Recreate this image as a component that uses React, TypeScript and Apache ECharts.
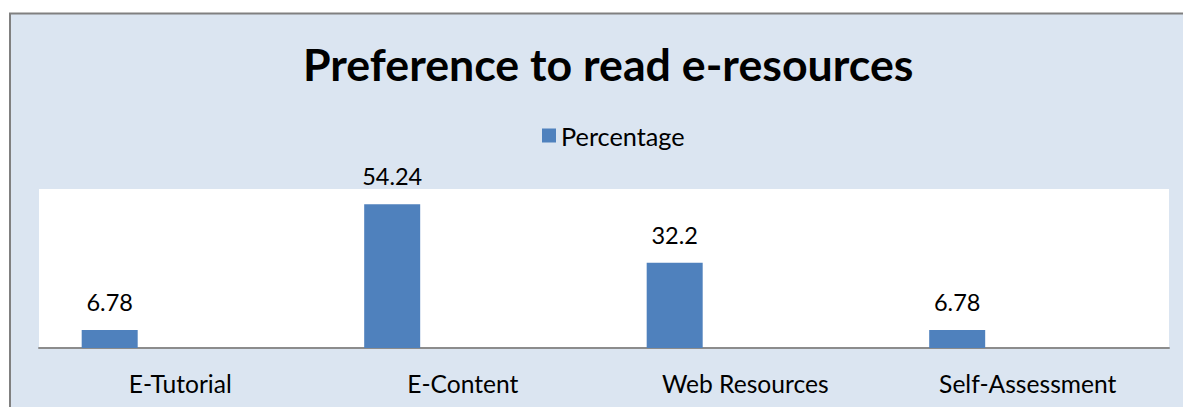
import React, { useEffect, useRef } from "react";
import * as echarts from "echarts";

const categories = ["E-Tutorial", "E-Content", "Web Resources", "Self-Assessment"];
const percentage = [6.78, 54.24, 32.2, 6.78];
const seriesName = "Percentage";
const titleText = "Preference to read e-resources";

export default function App() {
  const ref = useRef<HTMLDivElement>(null);
  useEffect(() => {
    if (!ref.current) return;
    const chart = echarts.init(ref.current, undefined, { renderer: "svg" });
    chart.setOption({
      animation: false,
      backgroundColor: "#ffffff",
      textStyle: { fontFamily: "Lato" },
      graphic: [
        {
          type: "rect",
          z: -10,
          silent: true,
          shape: { x: 10, y: 13.5, width: 1200, height: 420 },
          style: { fill: "#DBE5F1", stroke: "#808080", lineWidth: 2 },
        },
      ],
      title: {
        text: titleText,
        left: 298,
        top: 36,
        textStyle: { fontFamily: "Lato", fontWeight: "bold", fontSize: 44.7, color: "#000" },
      },
      legend: {
        data: [seriesName],
        left: 537,
        top: 118,
        itemWidth: 14,
        itemHeight: 14,
        icon: "rect",
        textStyle: { fontFamily: "Lato", fontSize: 25.3, color: "#000" },
      },
      grid: { left: 39, right: 14, top: 189, bottom: 59, backgroundColor: "#ffffff", show: true, borderWidth: 0 },
      xAxis: {
        type: "category",
        data: categories,
        axisLine: { lineStyle: { color: "#8C8C8C", width: 2 } },
        axisTick: { show: false },
        axisLabel: { fontFamily: "Lato", fontSize: 24.6, color: "#000", margin: 23 },
      },
      yAxis: {
        type: "value",
        min: 0,
        max: 60,
        show: false,
        splitLine: { show: false },
      },
      series: [
        {
          name: seriesName,
          type: "bar",
          data: percentage,
          barWidth: 56,
          barGap: "152%",
          itemStyle: { color: "#4F81BD" },
          label: {
            show: true,
            position: "top",
            distance: 16,
            fontFamily: "Lato",
            fontSize: 23.5,
            color: "#000",
          },
        },
        {
          name: "_spacer",
          type: "bar",
          data: categories.map(() => null),
          barWidth: 56,
          itemStyle: { color: "transparent" },
        },
      ],
    });
    return () => chart.dispose();
  }, []);
  return (
    <div
      ref={ref}
      style={{ position: "absolute", left: 0, top: 0, width: 1183, height: 407 }}
    />
  );
}
